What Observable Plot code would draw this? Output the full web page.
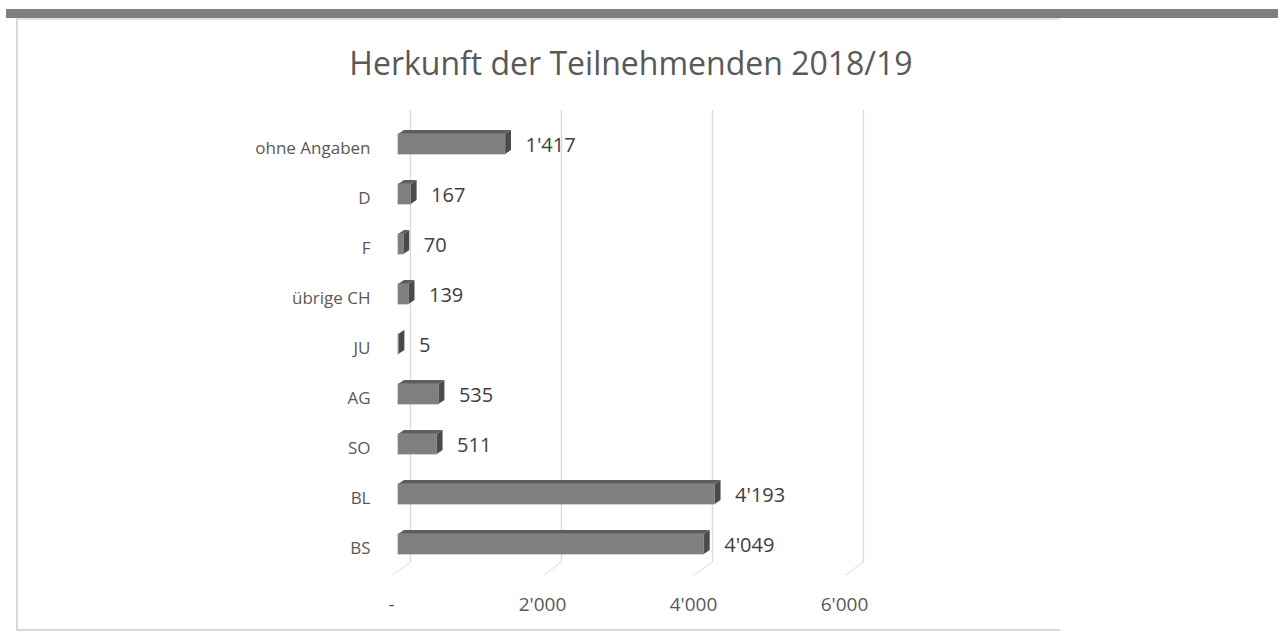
<!DOCTYPE html>
<html>
<head>
<meta charset="utf-8">
<script src="https://cdn.jsdelivr.net/npm/d3@7"></script>
<script src="https://cdn.jsdelivr.net/npm/@observablehq/plot@0.6"></script>
<style>
  html, body { margin: 0; padding: 0; background: #ffffff; }
  #page { position: relative; width: 1278px; height: 643px; overflow: hidden; font-family: "Open Sans", sans-serif; }
  #chart { position: absolute; left: 0; top: 0; }
  .deco { position: absolute; z-index: 2; }
  #topband { left: 6px; top: 9px; width: 1272px; height: 9px; background: #7f7f7f; }
  #frameTop { left: 17px; top: 18px; width: 1043px; height: 2px; background: #e3e3e3; }
  #frameLeft { left: 16px; top: 18px; width: 2px; height: 613px; background: #d9d9d9; }
  #frameBottom { left: 16px; top: 629px; width: 1044px; height: 2px; background: #d9d9d9; }
  #title { left: 0; width: 1262px; top: 47px; text-align: center; font-size: 32px; line-height: 32px; color: #595959; white-space: nowrap; }
</style>
</head>
<body>
<div id="page">
  <div id="chart"></div>
  <div class="deco" id="topband"></div>
  <div class="deco" id="frameTop"></div>
  <div class="deco" id="frameLeft"></div>
  <div class="deco" id="frameBottom"></div>
  <div class="deco" id="title"></div>
</div>
<script>
const title = "Herkunft der Teilnehmenden 2018/19";
const categories = ["ohne Angaben", "D", "F", "übrige CH", "JU", "AG", "SO", "BL", "BS"];
const values = [1417, 167, 70, 139, 5, 535, 511, 4193, 4049];
const xTicks = [0, 2000, 4000, 6000];

const data = categories.map((c, i) => ({category: c, value: values[i]}));
const fmt = d3.formatLocale({decimal: ".", thousands: "'", grouping: [3], currency: ["", ""]}).format(",d");
const tickFmt = d => d === 0 ? "-" : fmt(d);

document.getElementById("title").textContent = title;

const chart = Plot.plot({
  width: 1278,
  height: 643,
  marginLeft: 398,
  marginRight: 427,
  marginTop: 118,
  marginBottom: 73,
  x: {domain: [0, 6000], axis: null},
  y: {domain: categories, paddingInner: 0.6, paddingOuter: 0.3, axis: null},
  style: {fontFamily: "Open Sans, sans-serif", background: "transparent", color: "#595959"},
  marks: [
    // back-wall gridlines
    Plot.ruleX(xTicks, {x: d => d, dx: 12, dy: -8, stroke: "#d9d9d9", strokeWidth: 1.3}),
    // floor diagonals
    Plot.ruleX(xTicks, {x: d => d, dx: -6, dy: 5, insetTop: 439, stroke: "#d9d9d9", strokeWidth: 1.3}),
    // bar side faces
    Plot.barX(data, {y: "category", x1: "value", x2: "value", insetLeft: 0, insetRight: -6, fill: "#4a4a4a"}),
    // bar top faces
    Plot.barX(data, {y: "category", x1: d => 0, x2: "value", insetBottom: 16, dy: -4, fill: "#5e5e5e"}),
    // bar front faces
    Plot.barX(data, {y: "category", x1: d => 0, x2: "value", fill: "#7f7f7f", stroke: "#8a8a8a", strokeWidth: 0.8}),
    // value labels
    Plot.text(data, {y: "category", x: "value", text: d => fmt(d.value), dx: 20, dy: 1, textAnchor: "start", fontSize: 20, fill: "#404040"}),
    // category labels
    Plot.text(data, {y: "category", frameAnchor: "left", text: "category", textAnchor: "end", dx: -28, dy: 4, fontSize: 17, fill: "#595959"}),
    // x tick labels
    Plot.text(xTicks, {x: d => d, frameAnchor: "bottom", text: tickFmt, dx: -7, dy: 40, fontSize: 19, fill: "#595959"})
  ]
});
document.getElementById("chart").appendChild(chart);

// 3D shearing of the faces drawn by Plot
const svg = d3.select(chart);
const deg = r => r * 180 / Math.PI;
const barGroups = svg.selectAll('g[aria-label="bar"]').nodes();
const ruleGroups = svg.selectAll('g[aria-label="rule"]').nodes();
const sideG = barGroups[0], topG = barGroups[1], diagG = ruleGroups[1];

d3.select(topG).selectAll("rect").each(function() {
  const el = d3.select(this);
  const y = +el.attr("y"), h = +el.attr("height");
  const yb = y + h;
  const a = deg(Math.atan(-6 / h));
  el.attr("transform", `translate(0,${yb}) skewX(${a}) translate(0,${-yb})`);
});
d3.select(sideG).selectAll("rect").each(function() {
  const el = d3.select(this);
  const x = +el.attr("x"), w = +el.attr("width");
  const b = deg(Math.atan(-4 / w));
  el.attr("transform", `translate(${x},0) skewY(${b}) translate(${-x},0)`);
});
d3.select(diagG).selectAll("line").each(function() {
  const el = d3.select(this);
  const y1 = +el.attr("y1"), y2 = +el.attr("y2");
  const yb = Math.max(y1, y2), h = Math.abs(y2 - y1);
  const a = deg(Math.atan(-18 / h));
  el.attr("transform", `translate(0,${yb}) skewX(${a}) translate(0,${-yb})`);
});
</script>
</body>
</html>
